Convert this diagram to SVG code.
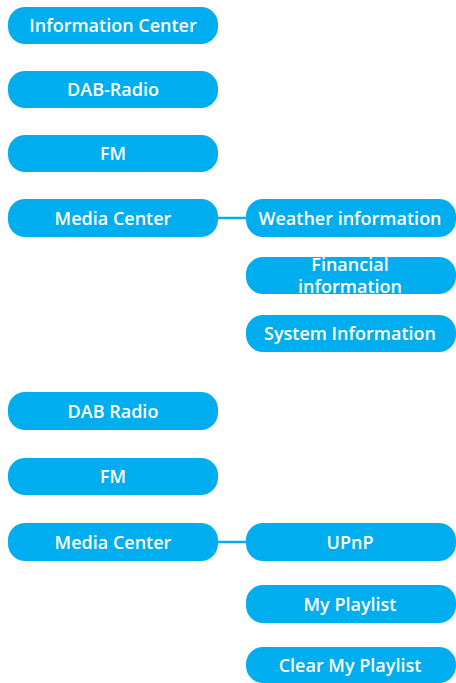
<svg xmlns="http://www.w3.org/2000/svg" width="456" height="683" viewBox="0 0 456 683">
<style>
.b{fill:#00AEEF}
.t{fill:#fff;font-family:"Open Sans","Noto Sans",sans-serif;font-size:18px;font-weight:600;text-anchor:middle}
.c{stroke:#00AEEF;stroke-width:2.5;fill:none}
</style>
<rect width="456" height="683" fill="#fff"/>
<g id="connectors">
<line class="c" x1="216" y1="218" x2="248" y2="218"/>
<line class="c" x1="216" y1="542" x2="248" y2="542"/>
</g>
<g id="n1"><rect class="b" x="8" y="7" width="210" height="37" rx="17"/><text class="t" x="113" y="32">Information Center</text></g>
<g id="n2"><rect class="b" x="8" y="71" width="210" height="37" rx="17"/><text class="t" x="113" y="96">DAB-Radio</text></g>
<g id="n3"><rect class="b" x="8" y="135" width="210" height="37" rx="17"/><text class="t" x="113" y="160">FM</text></g>
<g id="n4"><rect class="b" x="8" y="199" width="210" height="38" rx="17"/><text class="t" x="113" y="224.5">Media Center</text></g>
<g id="n5"><rect class="b" x="246" y="199" width="210" height="38" rx="17"/><text class="t" x="350" y="224.5">Weather information</text></g>
<g id="n6"><rect class="b" x="246" y="257" width="210" height="37" rx="17"/><text class="t" x="350" y="270.5">Financial</text><text class="t" x="350" y="293">information</text></g>
<g id="n7"><rect class="b" x="246" y="315" width="210" height="37" rx="17"/><text class="t" x="350" y="340">System Information</text></g>
<g id="n8"><rect class="b" x="8" y="392" width="210" height="38" rx="17"/><text class="t" x="113" y="417.5">DAB Radio</text></g>
<g id="n9"><rect class="b" x="8" y="458" width="210" height="37" rx="17"/><text class="t" x="113" y="483">FM</text></g>
<g id="n10"><rect class="b" x="8" y="523" width="210" height="38" rx="17"/><text class="t" x="113" y="548.5">Media Center</text></g>
<g id="n11"><rect class="b" x="246" y="523" width="210" height="38" rx="17"/><text class="t" x="350" y="548.5">UPnP</text></g>
<g id="n12"><rect class="b" x="246" y="585" width="210" height="38" rx="17"/><text class="t" x="350" y="610.5">My Playlist</text></g>
<g id="n13"><rect class="b" x="246" y="647" width="210" height="36" rx="17"/><text class="t" x="350" y="671.5">Clear My Playlist</text></g>
</svg>
